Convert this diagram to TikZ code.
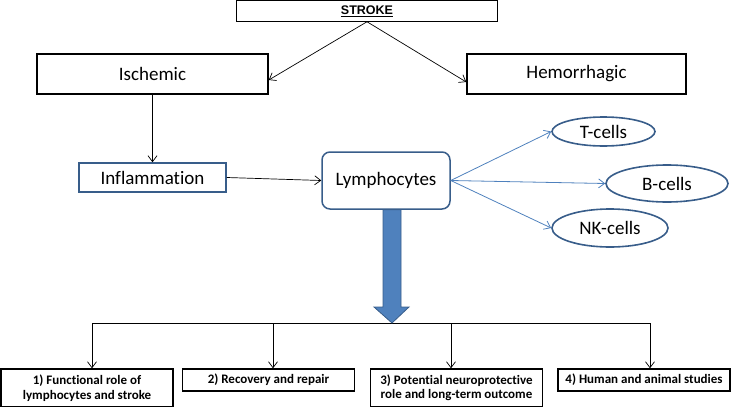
\documentclass[tikz,border=0pt]{standalone}
\usepackage{fontspec}
\setmainfont{Carlito}[Ligatures=NoCommon]
\newfontfamily\arialfont{Liberation Sans}
\usetikzlibrary{arrows.meta,calc,positioning,shapes.geometric}
\definecolor{ofblue}{HTML}{4F81BD}
\definecolor{ofdark}{HTML}{385D8A}

\begin{document}
\begin{tikzpicture}[x=1pt,y=-1pt,>={Straight Barb[length=6pt,width=9pt]},
  every node/.style={inner sep=0pt,align=center},
  bigbox/.style={draw,line width=1.5pt,minimum height=40pt,font=\fontsize{19}{23}\selectfont},
  outbox/.style={draw,line width=1.4pt,minimum width=172pt,font=\bfseries\fontsize{13}{14.5}\selectfont},
  cell/.style={ellipse,draw=ofdark,line width=1.6pt,font=\fontsize{19}{23}\selectfont},
  link/.style={->,line width=0.7pt},
  bluelink/.style={->,ofblue,line width=0.8pt}]
  \useasboundingbox (0,0) rectangle (731,407);
  % top level
  \node[draw,line width=1pt,minimum width=261pt,minimum height=20.5pt,
    font=\arialfont\bfseries\fontsize{12.5}{14}\selectfont] (stroke) at (367,11) {\underline{STROKE}};
  \node[bigbox,minimum width=231pt] (isch) at (152.5,74) {Ischemic};
  \node[bigbox,minimum width=219pt] (hemo) at (576.5,74) {Hemorrhagic};
  \draw[link] (stroke.south) -- ($(isch.east)+(0,6)$);
  \draw[link] (stroke.south) -- ($(hemo.west)+(0,8)$);
  % middle row
  \node[draw=ofdark,line width=1.5pt,minimum width=147pt,minimum height=29pt,
    font=\fontsize{19}{23}\selectfont] (infl) at (152.5,177.5) {Inflammation};
  \node[draw=ofdark,line width=1.5pt,rounded corners=8pt,minimum width=128pt,
    minimum height=57pt,font=\fontsize{19}{23}\selectfont] (lymph) at (386,180.5) {Lymphocytes};
  \draw[link] (isch.south) -- (infl.north);
  \draw[link] (infl.east) -- (lymph.west);
  % cell types
  \node[cell,minimum width=103pt,minimum height=29pt] (tcell) at (603.5,131.5) {T-cells};
  \node[cell,minimum width=122pt,minimum height=37pt] (bcell) at (667,183.5) {B-cells};
  \node[cell,minimum width=116pt,minimum height=38pt] (nkcell) at (610,228) {NK-cells};
  \foreach \c in {tcell,bcell,nkcell}
    \draw[bluelink] (lymph.east) -- (\c.west);
  % research topics
  \node[outbox,minimum height=38pt] (out1) at (87,388) {1) Functional role of\\lymphocytes and stroke};
  \node[outbox,minimum height=22pt] (out2) at (268.5,380) {2) Recovery and repair};
  \node[outbox,minimum height=38pt] (out3) at (456.5,388) {3) Potential neuroprotective\\role and long-term outcome};
  \node[outbox,minimum height=22pt] (out4) at (644,380) {4) Human and animal studies};
  \coordinate (hub) at (392,323);
  \coordinate (b1) at (92,323);
  \coordinate (b2) at (273,323);
  \coordinate (b3) at (451,323);
  \coordinate (b4) at (650,323);
  \draw[line width=0.7pt] (b1) -- (b4);
  \foreach \i in {1,...,4}
    \draw[link] (b\i) -- (b\i |- out\i.north);
  % block arrow
  \filldraw[fill=ofblue,draw=ofdark,line width=0.8pt]
    ($(hub |- lymph.south)+(-9,0)$) -- ($(hub)+(-9,-16)$) -- ($(hub)+(-18,-16)$)
    -- (hub) -- ($(hub)+(17,-16)$) -- ($(hub)+(9,-16)$) -- ($(hub |- lymph.south)+(9,0)$) -- cycle;
\end{tikzpicture}
\end{document}
